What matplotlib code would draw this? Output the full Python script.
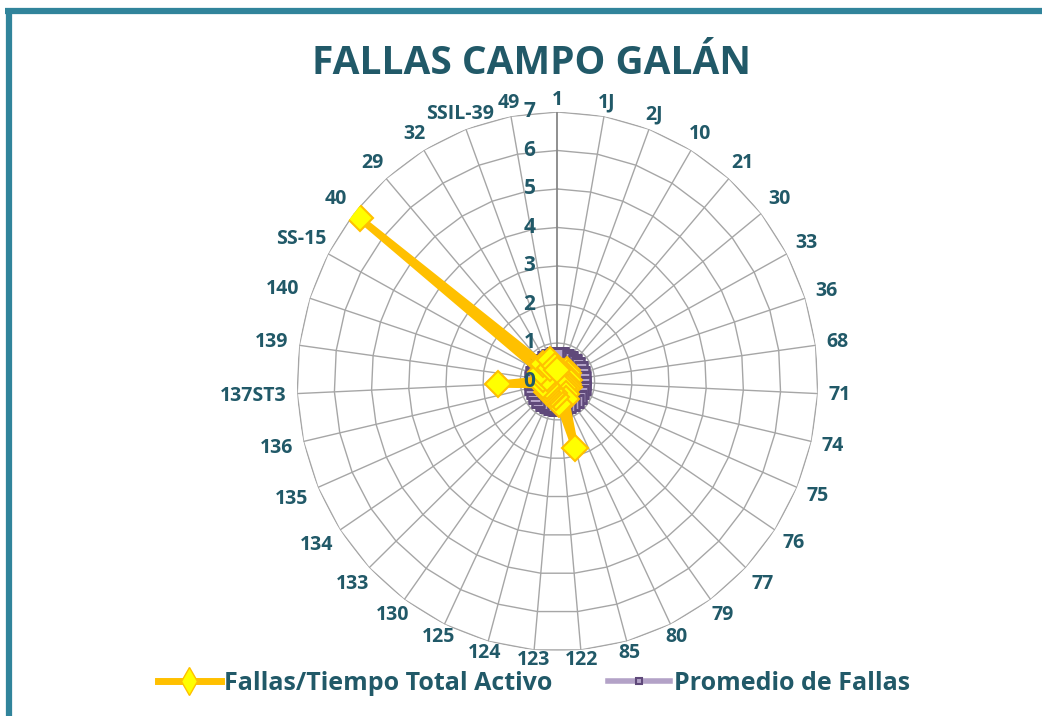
import numpy as np
import matplotlib
matplotlib.use("Agg")
import matplotlib.pyplot as plt
from matplotlib.lines import Line2D

categories = ['1', '1J', '2J', '10', '21', '30', '33', '36', '68', '71',
              '74', '75', '76', '77', '79', '80', '85', '122', '123', '124',
              '125', '130', '133', '134', '135', '136', '137ST3', '139', '140', 'SS-15',
              '40', '29', '32', 'SSIL-39', '49']
fallas = [0.3, 0.2, 0.25, 0.3, 0.4, 0.35, 0.3, 0.25, 0.3, 0.2,
          0.3, 0.35, 0.3, 0.25, 0.4, 0.5, 1.8, 0.6, 0.4, 0.3,
          0.35, 0.3, 0.4, 0.35, 0.3, 0.4, 1.6, 0.4, 0.3, 0.5,
          6.8, 0.6, 0.4, 0.6, 0.4]
promedio = [0.72] * len(categories)
radial_ticks = [0, 1, 2, 3, 4, 5, 6, 7]

TXT = '#215968'
FONT = ['Open Sans', 'DejaVu Sans']
plt.rcParams['font.family'] = FONT

fig = plt.figure(figsize=(10.42, 7.16), dpi=100)
fig.patch.set_facecolor('white')

# frame lines (top and left)
fig.add_artist(Line2D([5/1042, 1.0], [1-11/716, 1-11/716], color='#31849B', lw=4.5,
                      transform=fig.transFigure, solid_capstyle='butt'))
fig.add_artist(Line2D([9/1042, 9/1042], [0, 1-8/716], color='#31849B', lw=4.5,
                      transform=fig.transFigure, solid_capstyle='butt'))

ax = fig.add_axes([0.2850, 0.0908, 0.5, 0.7528], projection='polar')
ax.set_aspect('auto')
ax.set_theta_zero_location('N')
ax.set_theta_direction(-1)
ax.set_ylim(0, 7)
ax.grid(False)
ax.set_xticks([])
ax.set_yticks([])
ax.spines['polar'].set_visible(False)
ax.patch.set_alpha(0)

n = len(categories)
theta = np.arange(n) * 2 * np.pi / n
theta_c = np.append(theta, theta[0])

# polygon grid
for r in radial_ticks[1:]:
    ax.plot(theta_c, [r] * (n + 1), color='#A6A6A6', lw=1.0, zorder=1)
for i, t in enumerate(theta):
    ax.plot([t, t], [0, radial_ticks[-1]], color='#878787' if i == 0 else '#A6A6A6',
            lw=1.3 if i == 0 else 1.0, zorder=1)

# series
ax.plot(theta_c, np.append(promedio, promedio[0]), color='#B3A2C7', lw=2.5,
        marker='s', ms=8, mfc='#B3A2C7', mec='#5F497A', mew=1.8, zorder=3)
ax.plot(theta_c, np.append(fallas, fallas[0]), color='#FFC000', lw=5,
        marker='D', ms=13, mfc='#FFFF00', mec='#FFC000', mew=1.5, zorder=4)

# radial tick labels
for r in radial_ticks:
    ax.annotate(str(r), xy=(0, r), xytext=(-22, 0), textcoords='offset pixels',
                ha='right', va='center', fontsize=15, fontweight='bold', color=TXT,
                zorder=5)

# category labels positioned outward
fig.canvas.draw()
renderer = fig.canvas.get_renderer()
for lab, t in zip(categories, theta):
    tmp = ax.text(0, 0, lab, fontsize=14, fontweight='bold')
    bb = tmp.get_window_extent(renderer)
    tmp.remove()
    w, h = bb.width, bb.height
    s, c = np.sin(t), np.cos(t)
    cand = []
    if abs(s) > 1e-6:
        cand.append((w / 2) / abs(s))
    if abs(c) > 1e-6:
        cand.append((h / 2) / abs(c))
    base = 2 if c > -0.9 else -1
    d = min(cand) + base + 9 * abs(s)
    ax.annotate(lab, xy=(t, 7), xytext=(d * s, d * c), textcoords='offset pixels',
                ha='center', va='center', fontsize=14, fontweight='bold', color=TXT,
                annotation_clip=False)

fig.text(0.510, 1 - 64/716, 'FALLAS CAMPO GALÁN', ha='center', va='center',
         fontsize=28, fontweight='bold', color=TXT)

h1 = Line2D([], [], color='#FFC000', lw=5, marker='d', ms=14, mfc='#FFFF00', mec='#FFC000')
h2 = Line2D([], [], color='#B3A2C7', lw=4, marker='s', ms=5, mfc='#B3A2C7', mec='#5F497A', mew=1.5)
fig.legend([h1, h2], ['Fallas/Tiempo Total Activo', 'Promedio de Fallas'],
           loc='center', bbox_to_anchor=(0.5125, 1 - 683/716), ncol=2, frameon=False,
           prop={'family': FONT, 'weight': 'bold', 'size': 18}, labelcolor=TXT,
           handlelength=2.5, handletextpad=0.15, columnspacing=2.2)

fig.savefig('out.png', dpi=100, facecolor='white')
